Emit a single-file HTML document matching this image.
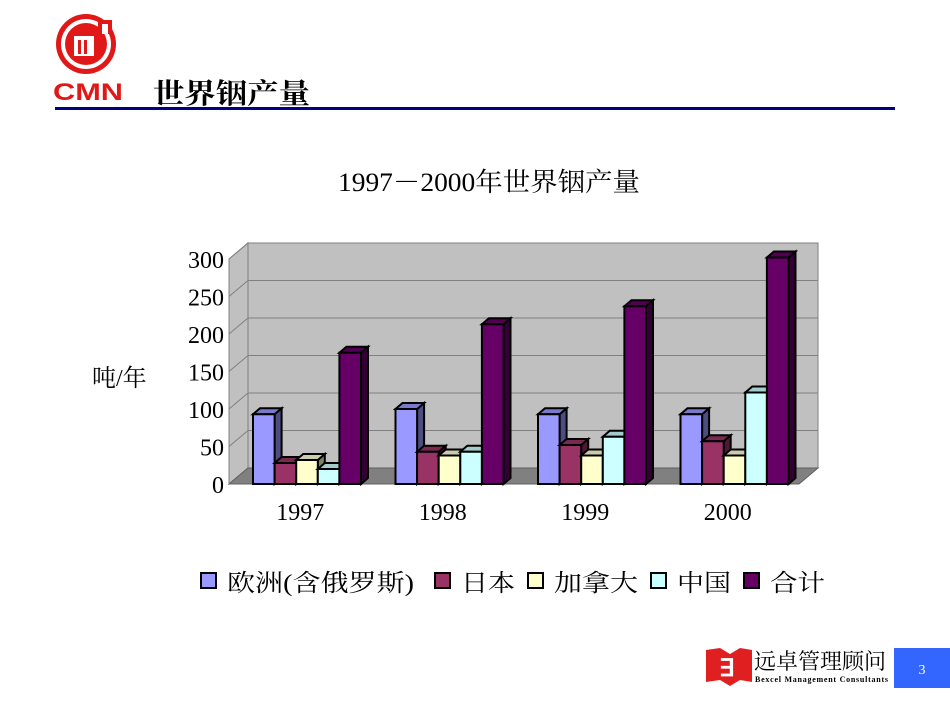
<!DOCTYPE html>
<html><head><meta charset="utf-8">
<style>
body{margin:0;width:950px;height:713px;background:#fff;overflow:hidden;font-family:"Liberation Serif","Noto Serif CJK SC",serif;}
svg{position:absolute;left:0;top:0}
</style></head>
<body>
<svg id="s" width="950" height="713">
  <g>
    <circle cx="86" cy="44" r="30" fill="#e01818"/>
    <circle cx="86" cy="44" r="25" fill="#fff"/>
    <circle cx="86" cy="44" r="21" fill="#e01818"/>
    <rect x="74" y="36" width="20" height="20" fill="#fff"/>
    <rect x="78" y="40" width="3" height="14" fill="#e01818"/>
    <rect x="84" y="40" width="3" height="14" fill="#e01818"/>
    <rect x="98" y="20" width="14" height="14" fill="#e01818"/>
    <rect x="102" y="24" width="6" height="10" fill="#fff"/>
    <text x="53" y="100" font-family="Liberation Sans, sans-serif" font-weight="bold" font-size="24" fill="#e01818" textLength="70" lengthAdjust="spacingAndGlyphs">CMN</text>
  </g>
  <text x="153" y="103" font-family="Liberation Serif, Noto Serif CJK SC, serif" font-weight="bold" font-size="28" fill="#000" textLength="157" lengthAdjust="spacingAndGlyphs">世界铟产量</text>
  <rect x="55" y="107" width="840" height="3" fill="#000080"/>
  <text x="338" y="191" font-size="26" fill="#000" textLength="302" lengthAdjust="spacingAndGlyphs">1997－2000年世界铟产量</text>
  <text x="92" y="386" font-size="24" fill="#000">吨/年</text>
  <g id="chart"></g>
  <g id="legend"></g>
  <g>
    <path d="M706 650 L720 648 L730 654 L740 648 L752 650 L752 682 L740 680 L730 686 L720 680 L706 682Z" fill="#e02020"/>
    <text x="719" y="676" font-family="Liberation Sans,sans-serif" font-weight="bold" font-size="24" fill="#fff">∃</text>
    <text x="754" y="669" font-size="22" fill="#000" font-family="Liberation Serif,Noto Serif CJK SC,serif">远卓管理顾问</text>
    <text x="755" y="682" font-size="8" font-weight="bold" fill="#000" textLength="133">Bexcel Management Consultants</text>
  </g>
  <rect x="894" y="648" width="56" height="40" fill="#3366ff"/>
  <text x="922" y="674" text-anchor="middle" font-size="14" fill="#fff">3</text>
</svg>
<script>
const categories=["1997","1998","1999","2000"];
const seriesNames=["欧洲(含俄罗斯)","日本","加拿大","中国","合计"];
const europe=[93,100,93,93];
const japan=[28,43,52,57];
const canada=[32,38,38,38];
const china=[20,43,63,122];
const total=[175,213,237,302];
const yTicks=[0,50,100,150,200,250,300];
const series=[europe,japan,canada,china,total];
const colors=["#9999ff","#993366","#ffffcc","#ccffff","#660066"];
const sides=["#4d4d80","#4d1a33","#808066","#668080","#330033"];
const tops=["#7a7acc","#7a2952","#ccccaa","#a3cccc","#520052"];
const NS="http://www.w3.org/2000/svg";
const X0=229,Y0=484,PX=0.75,DX=19,DY=-16,CW=142.5,BW=21.6,BDX=7,BDY=-6;
function y(v){return Y0-v*PX;}
function mk(p,t,a){const e=document.createElementNS(NS,t);for(const k in a)e.setAttribute(k,a[k]);p.appendChild(e);return e;}
const g=document.getElementById('chart');
const W=4*CW;
const wall=mk(g,'polygon',{points:`${X0+DX},${y(300)+DY} ${X0+W+DX},${y(300)+DY} ${X0+W+DX},${Y0+DY} ${X0+DX},${Y0+DY}`,fill:'#c0c0c0',stroke:'#808080'});


const lw=mk(g,'polygon',{points:`${X0},${y(300)} ${X0+DX},${y(300)+DY} ${X0+DX},${Y0+DY} ${X0},${Y0}`,fill:'#c0c0c0',stroke:'#808080'});


const fl=mk(g,'polygon',{points:`${X0},${Y0} ${X0+DX},${Y0+DY} ${X0+W+DX},${Y0+DY} ${X0+W},${Y0}`,fill:'#808080',stroke:'#606060'});


yTicks.forEach(t=>{
  if(t>0){const l=mk(g,'polyline',{points:`${X0},${y(t)} ${X0+DX},${y(t)+DY} ${X0+W+DX},${y(t)+DY}`,fill:'none',stroke:'#808080'});
  
  }
  const tx=mk(g,'text',{x:224,y:y(t)+9,'text-anchor':'end','font-size':'24',fill:'#000'});tx.textContent=t;
  
  
});
mk(g,'line',{x1:X0,y1:y(300),x2:X0,y2:Y0,stroke:'#808080'});
categories.forEach((c,i)=>{
  const cx=X0+CW*i;
  series.forEach((s,j)=>{
    const x=cx+24+j*BW,top=y(s[i]);
    const grp=mk(g,'g',{});
    
    
    mk(grp,'polygon',{points:`${x+BW},${top} ${x+BW+BDX},${top+BDY} ${x+BW+BDX},${Y0+BDY} ${x+BW},${Y0}`,fill:sides[j],stroke:'#000','stroke-width':2});
    mk(grp,'polygon',{points:`${x},${top} ${x+BDX},${top+BDY} ${x+BW+BDX},${top+BDY} ${x+BW},${top}`,fill:tops[j],stroke:'#000','stroke-width':2});
    mk(grp,'rect',{x:x,y:top,width:BW,height:Y0-top,fill:colors[j],stroke:'#000','stroke-width':2});
  });
  const tx=mk(g,'text',{x:cx+CW/2,y:520,'text-anchor':'middle','font-size':'24',fill:'#000'});tx.textContent=c;
  
  
});
const lg=document.getElementById('legend');
const lx=[201,435,528,651,744];
const lw2=[187,54,84,54,55];
seriesNames.forEach((n,j)=>{
  const e=mk(lg,'g',{});
  
  
  mk(e,'rect',{x:lx[j],y:573,width:15,height:15,fill:colors[j],stroke:'#000','stroke-width':2});
  const t=mk(e,'text',{x:lx[j]+26,y:591,'font-size':'24',fill:'#000',textLength:lw2[j],lengthAdjust:'spacingAndGlyphs'});t.textContent=n;
});
</script>
</body></html>
